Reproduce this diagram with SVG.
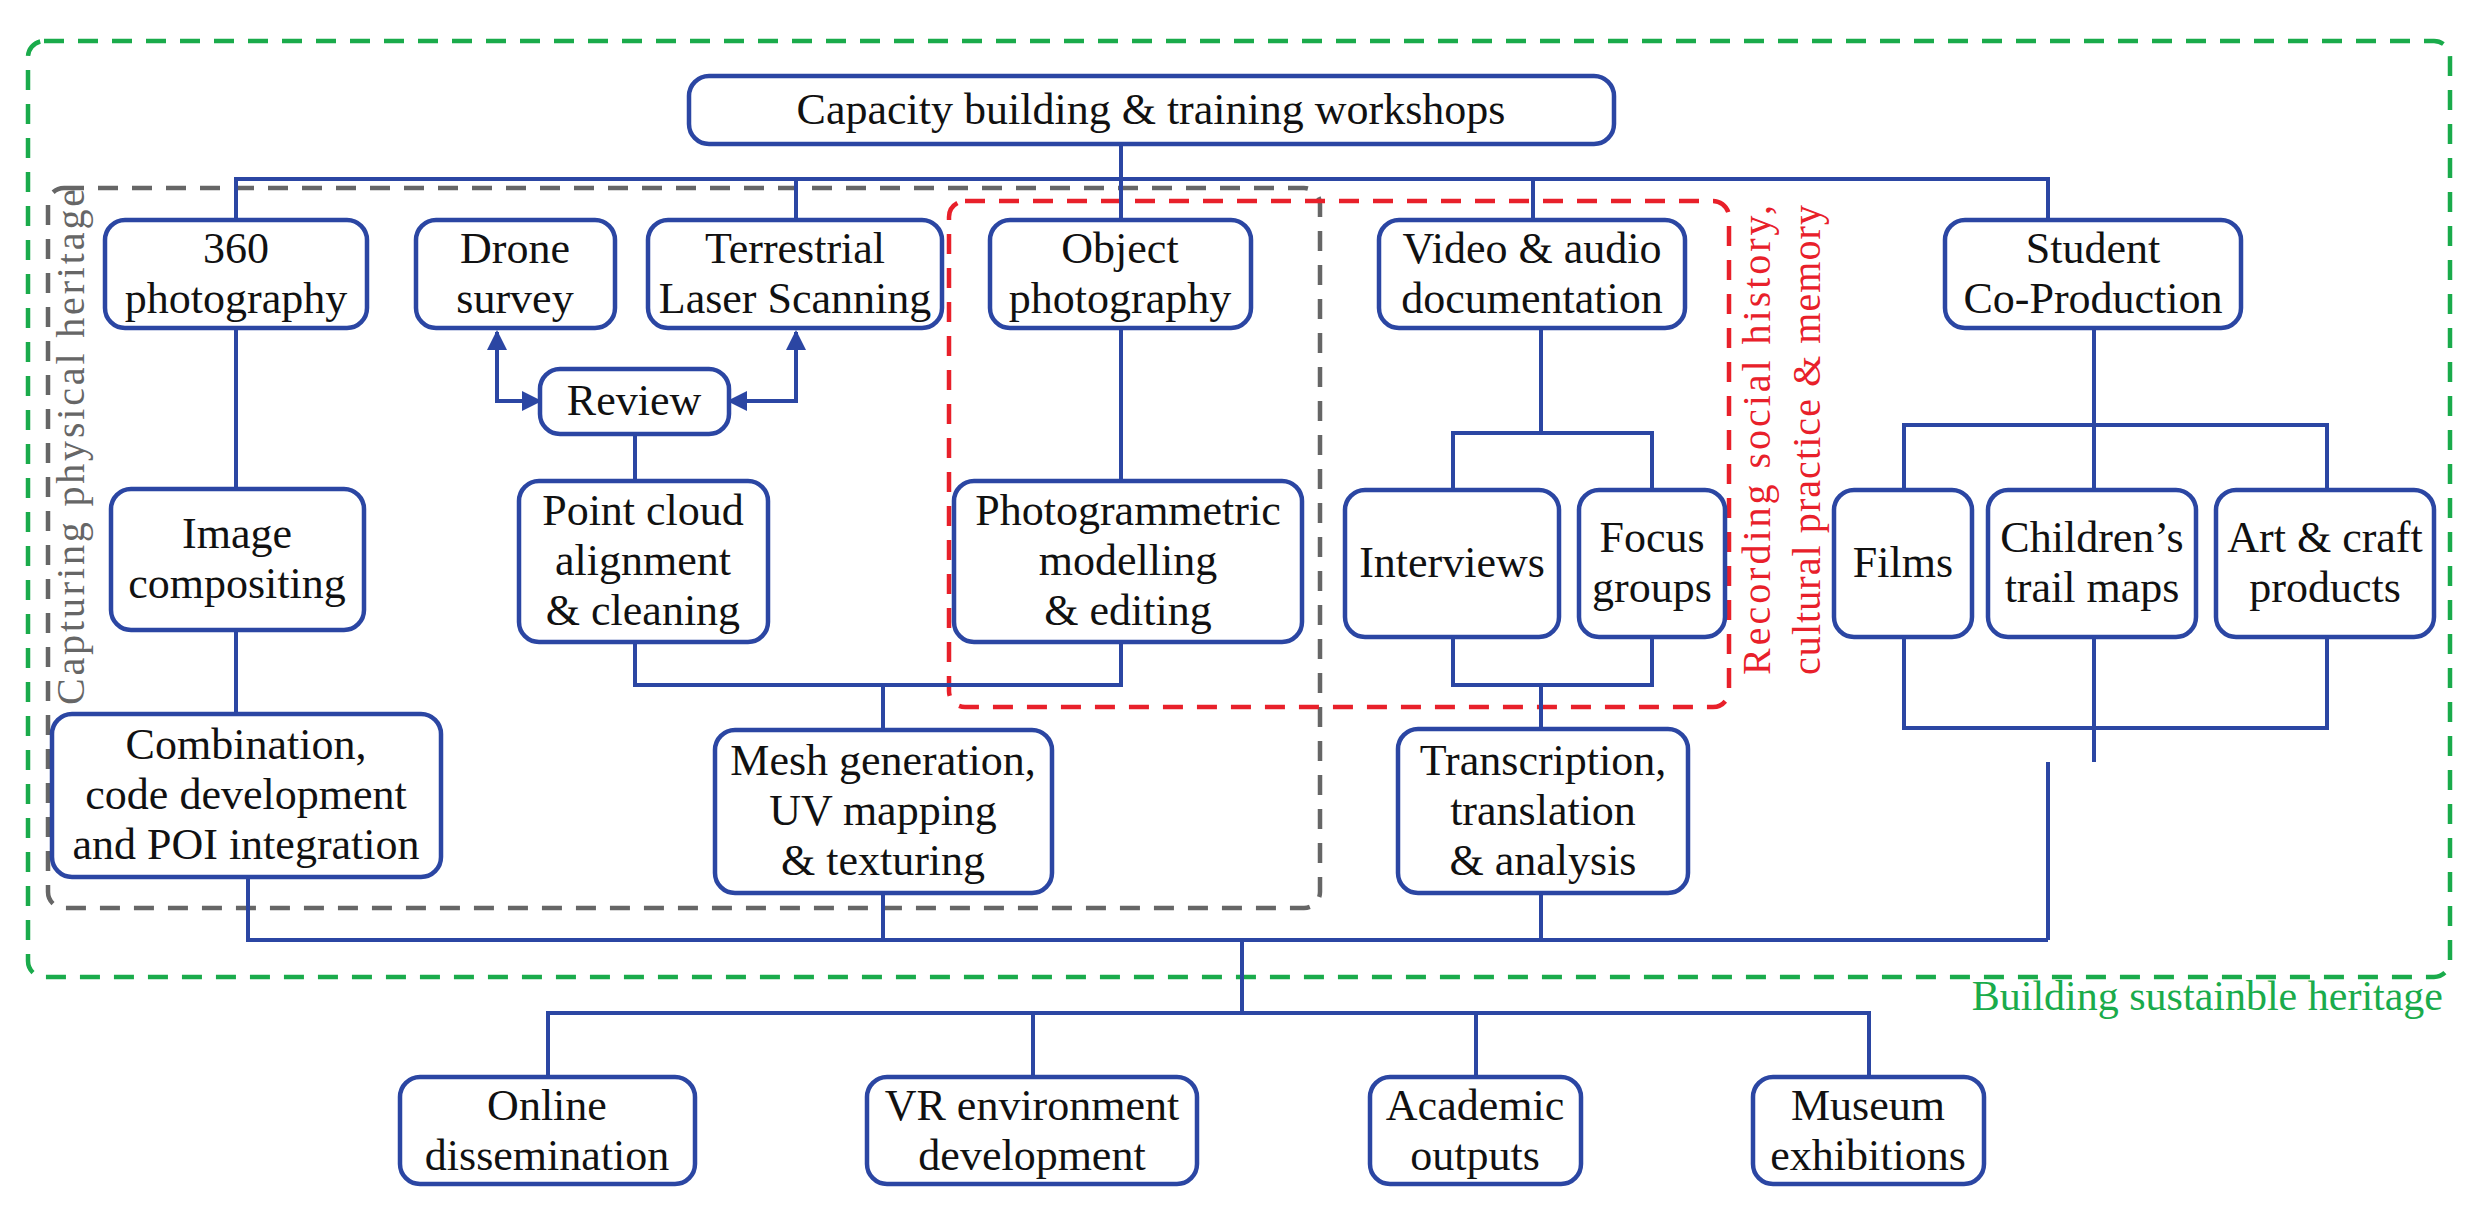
<svg xmlns="http://www.w3.org/2000/svg" width="2484" height="1211" viewBox="0 0 2484 1211">
<style>
.n rect{fill:#fff;stroke:#2b46a3;stroke-width:4.5}
.n text,.t{font-family:"Liberation Serif",serif;font-size:44px;fill:#111;text-anchor:middle}
.c{fill:none;stroke:#2b46a3;stroke-width:4}
</style>
<defs>
<marker id="a" viewBox="0 0 10 10" refX="9" refY="5" markerWidth="6" markerHeight="5" orient="auto-start-reverse" markerUnits="strokeWidth"><path d="M0,0L10,5L0,10z" fill="#2b46a3"/></marker>
</defs>
<rect x="28" y="41" width="2422" height="936" rx="16" fill="none" stroke="#1aab4b" stroke-width="4.5" stroke-dasharray="20 14"/>
<rect x="48" y="188" width="1272" height="720" rx="16" fill="none" stroke="#666" stroke-width="4.5" stroke-dasharray="20 14"/>
<rect x="949" y="201" width="780" height="506" rx="16" fill="none" stroke="#e8202a" stroke-width="4.5" stroke-dasharray="20 14"/>
<text x="2443" y="1010" style="font-family:'Liberation Serif',serif;font-size:42px;fill:#1aab4b;text-anchor:end">Building sustainble heritage</text>
<text transform="translate(84,447) rotate(-90)" textLength="516" style="font-family:'Liberation Serif',serif;font-size:40px;fill:#666;text-anchor:middle">Capturing physical heritage</text>
<text transform="translate(1770,440) rotate(-90)" textLength="470" style="font-family:'Liberation Serif',serif;font-size:40px;fill:#e8202a;text-anchor:middle">Recording social history,</text>
<text transform="translate(1820,440) rotate(-90)" textLength="470" style="font-family:'Liberation Serif',serif;font-size:40px;fill:#e8202a;text-anchor:middle">cultural practice &amp; memory</text>
<g id="connectors">
<path class="c" d="M1121,144V220M236,220V179H2048V220M796,179V220M1533,179V220"/>
<path class="c" d="M540,401H497V332" marker-start="url(#a)" marker-end="url(#a)"/>
<path class="c" d="M729,401H796V332" marker-start="url(#a)" marker-end="url(#a)"/>
<path class="c" d="M635,434V481M236,328V489M236,630V714"/>
<path class="c" d="M1121,328V481M635,642V685H1121V642M883,685V730"/>
<path class="c" d="M1541,328V433M1453,490V433H1652V490M1453,637V685H1652V637M1541,685V729"/>
<path class="c" d="M2094,328V425M1904,490V425H2327V490M2094,490V425M1904,637V728H2327V637M2094,637V762M2048,762V940"/>
<path class="c" d="M248,877V940H2048M883,893V940M1541,893V940M1242,940V1013M548,1077V1013H1869V1077M1033,1013V1077M1476,1013V1077"/>
</g>
<g id="capacity" class="n"><rect x="689" y="76" width="925" height="68" rx="20"/><text x="1151" y="124">Capacity building &amp; training workshops</text></g>
<g id="p360" class="n"><rect x="105" y="220" width="262" height="108" rx="20"/><text x="236" y="263">360</text><text x="236" y="313">photography</text></g>
<g id="drone" class="n"><rect x="416" y="220" width="199" height="108" rx="20"/><text x="515" y="263">Drone</text><text x="515" y="313">survey</text></g>
<g id="tls" class="n"><rect x="648" y="220" width="294" height="108" rx="20"/><text x="795" y="263">Terrestrial</text><text x="795" y="313">Laser Scanning</text></g>
<g id="object" class="n"><rect x="990" y="220" width="261" height="108" rx="20"/><text x="1120" y="263">Object</text><text x="1120" y="313">photography</text></g>
<g id="video" class="n"><rect x="1379" y="220" width="306" height="108" rx="20"/><text x="1532" y="263">Video &amp; audio</text><text x="1532" y="313">documentation</text></g>
<g id="student" class="n"><rect x="1945" y="220" width="296" height="108" rx="20"/><text x="2093" y="263">Student</text><text x="2093" y="313">Co-Production</text></g>
<g id="review" class="n"><rect x="540" y="369" width="189" height="65" rx="20"/><text x="634" y="415">Review</text></g>
<g id="imgcomp" class="n"><rect x="111" y="489" width="253" height="141" rx="20"/><text x="237" y="548">Image</text><text x="237" y="598">compositing</text></g>
<g id="pointcloud" class="n"><rect x="519" y="481" width="249" height="161" rx="20"/><text x="643" y="525">Point cloud</text><text x="643" y="575">alignment</text><text x="643" y="625">&amp; cleaning</text></g>
<g id="photogram" class="n"><rect x="954" y="481" width="348" height="161" rx="20"/><text x="1128" y="525">Photogrammetric</text><text x="1128" y="575">modelling</text><text x="1128" y="625">&amp; editing</text></g>
<g id="interviews" class="n"><rect x="1345" y="490" width="214" height="147" rx="20"/><text x="1452" y="577">Interviews</text></g>
<g id="focus" class="n"><rect x="1579" y="490" width="146" height="147" rx="20"/><text x="1652" y="552">Focus</text><text x="1652" y="602">groups</text></g>
<g id="films" class="n"><rect x="1834" y="490" width="138" height="147" rx="20"/><text x="1903" y="577">Films</text></g>
<g id="children" class="n"><rect x="1988" y="490" width="208" height="147" rx="20"/><text x="2092" y="552">Children’s</text><text x="2092" y="602">trail maps</text></g>
<g id="art" class="n"><rect x="2216" y="490" width="218" height="147" rx="20"/><text x="2325" y="552">Art &amp; craft</text><text x="2325" y="602">products</text></g>
<g id="combination" class="n"><rect x="52" y="714" width="389" height="163" rx="20"/><text x="246" y="759">Combination,</text><text x="246" y="809">code development</text><text x="246" y="859">and POI integration</text></g>
<g id="mesh" class="n"><rect x="715" y="730" width="337" height="163" rx="20"/><text x="883" y="775">Mesh generation,</text><text x="883" y="825">UV mapping</text><text x="883" y="875">&amp; texturing</text></g>
<g id="transcription" class="n"><rect x="1398" y="729" width="290" height="164" rx="20"/><text x="1543" y="775">Transcription,</text><text x="1543" y="825">translation</text><text x="1543" y="875">&amp; analysis</text></g>
<g id="online" class="n"><rect x="400" y="1077" width="295" height="107" rx="20"/><text x="547" y="1120">Online</text><text x="547" y="1170">dissemination</text></g>
<g id="vr" class="n"><rect x="867" y="1077" width="330" height="107" rx="20"/><text x="1032" y="1120">VR environment</text><text x="1032" y="1170">development</text></g>
<g id="academic" class="n"><rect x="1370" y="1077" width="211" height="107" rx="20"/><text x="1475" y="1120">Academic</text><text x="1475" y="1170">outputs</text></g>
<g id="museum" class="n"><rect x="1753" y="1077" width="231" height="107" rx="20"/><text x="1868" y="1120">Museum</text><text x="1868" y="1170">exhibitions</text></g>
</svg>
